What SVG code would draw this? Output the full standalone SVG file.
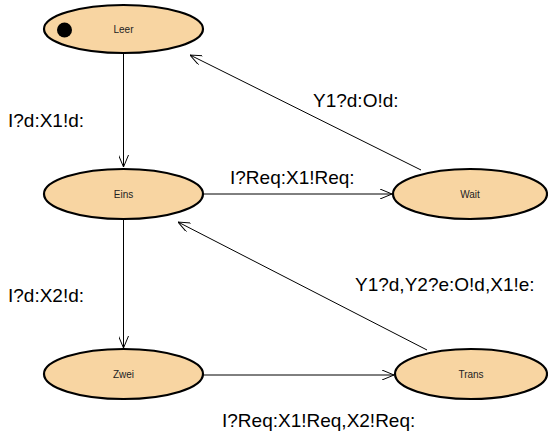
<svg xmlns="http://www.w3.org/2000/svg" width="548" height="436" viewBox="0 0 548 436">
<defs>
<marker id="arr" viewBox="0 0 12 10" refX="12" refY="5" markerWidth="12" markerHeight="10" markerUnits="userSpaceOnUse" orient="auto">
<path d="M0,0 L12,5 L0,10" fill="none" stroke="#000" stroke-width="1"/>
</marker>
<style>
.st{fill:#F8D5A2;stroke:#000;stroke-width:2.2}
.nl{font-family:"Liberation Sans",Arial,sans-serif;font-size:10px;fill:#222;text-anchor:middle}
.el{font-family:"Liberation Sans",Arial,sans-serif;font-size:19px;fill:#000}
.cn{fill:none;stroke:#000;stroke-width:1;marker-end:url(#arr)}
</style>
</defs>
<rect width="548" height="436" fill="#fff"/>
<g id="connectors">
<line class="cn" x1="123.5" y1="53" x2="123.5" y2="167"/>
<line class="cn" x1="203" y1="194" x2="392" y2="194"/>
<line class="cn" x1="421" y1="170" x2="190" y2="55"/>
<line class="cn" x1="123.5" y1="219" x2="123.5" y2="348"/>
<line class="cn" x1="203" y1="375" x2="394" y2="375"/>
<line class="cn" x1="427" y1="350" x2="178" y2="222"/>
</g>
<g id="labels">
<text class="el" x="8" y="127">I?d:X1!d:</text>
<text class="el" x="313" y="107">Y1?d:O!d:</text>
<text class="el" x="230" y="184">I?Req:X1!Req:</text>
<text class="el" x="8" y="302">I?d:X2!d:</text>
<text class="el" x="355" y="291">Y1?d,Y2?e:O!d,X1!e:</text>
<text class="el" x="222" y="427">I?Req:X1!Req,X2!Req:</text>
</g>
<g id="Leer">
<ellipse class="st" cx="123.5" cy="29" rx="79.5" ry="24"/>
<circle cx="64.5" cy="30" r="7.5" fill="#000"/>
<text class="nl" x="123.5" y="32.5">Leer</text>
</g>
<g id="Eins">
<ellipse class="st" cx="123.5" cy="194" rx="79.5" ry="25"/>
<text class="nl" x="123.5" y="197.5">Eins</text>
</g>
<g id="Wait">
<ellipse class="st" cx="470" cy="194" rx="77" ry="25"/>
<text class="nl" x="470" y="197.5">Wait</text>
</g>
<g id="Zwei">
<ellipse class="st" cx="123.5" cy="374" rx="79.5" ry="25"/>
<text class="nl" x="123.5" y="377.5">Zwei</text>
</g>
<g id="Trans">
<ellipse class="st" cx="471" cy="374" rx="76" ry="25"/>
<text class="nl" x="471" y="377.5">Trans</text>
</g>
</svg>
